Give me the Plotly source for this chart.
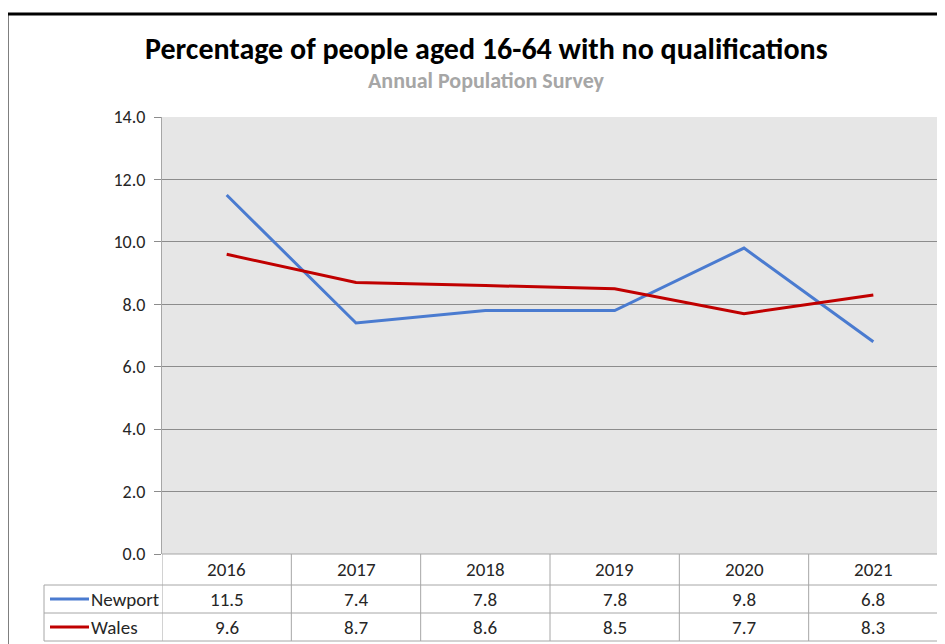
import plotly.graph_objects as go

years = ["2016", "2017", "2018", "2019", "2020", "2021"]
newport = [11.5, 7.4, 7.8, 7.8, 9.8, 6.8]
wales = [9.6, 8.7, 8.6, 8.5, 7.7, 8.3]
series_names = ["Newport", "Wales"]
series_colors = ["#4A7BD0", "#C00000"]

W, H = 945, 644
OFF = 8  # page body margin
def px(x):
    return (x - OFF) / W
def py(y):
    return 1 - (y - OFF) / H

FONT = "Carlito, Calibri, Liberation Sans, sans-serif"
x_idx = list(range(len(years)))

fig = go.Figure()
for name, vals, col in zip(series_names, [newport, wales], series_colors):
    fig.add_trace(go.Scatter(x=x_idx, y=vals, mode="lines", name=name,
                             line=dict(color=col, width=3), hoverinfo="skip"))

plot_l, plot_r, plot_t, plot_b = 162, 938, 117, 554
row_h = [554, 585, 613, 641]
grid = "#A6A6A6"

shapes = []
# outer black frame
shapes.append(dict(type="rect", xref="paper", yref="paper", x0=px(7), x1=px(1000),
                   y0=py(720), y1=py(14), line=dict(color="black", width=3)))
# table horizontal lines
shapes.append(dict(type="line", xref="paper", yref="paper", x0=px(plot_l), x1=px(plot_r),
                   y0=py(row_h[0]), y1=py(row_h[0]), line=dict(color=grid, width=1)))
for yy in row_h[1:]:
    shapes.append(dict(type="line", xref="paper", yref="paper", x0=px(44), x1=px(plot_r),
                       y0=py(yy), y1=py(yy), line=dict(color=grid, width=1)))
# left border of table label column
shapes.append(dict(type="line", xref="paper", yref="paper", x0=px(44), x1=px(44),
                   y0=py(row_h[1]), y1=py(row_h[3]), line=dict(color=grid, width=1)))
# vertical column lines
for i in range(len(years) + 1):
    shapes.append(dict(type="line", xref="x", yref="paper", x0=i - 0.5, x1=i - 0.5,
                       y0=py(row_h[0]), y1=py(row_h[3]), line=dict(color=grid, width=1)))
# legend keys
for k, col in enumerate(series_colors):
    yc = (row_h[k + 1] + row_h[k + 2]) / 2
    shapes.append(dict(type="line", xref="paper", yref="paper", x0=px(50), x1=px(89),
                       y0=py(yc), y1=py(yc), line=dict(color=col, width=3)))

annotations = []
annotations.append(dict(text="<b>Percentage of people aged 16-64 with no qualifications</b>",
                        xref="paper", yref="paper", x=px(486), y=py(48), showarrow=False,
                        font=dict(family=FONT, size=30, color="black"),
                        xanchor="center", yanchor="middle"))
annotations.append(dict(text="<b>Annual Population Survey</b>",
                        xref="paper", yref="paper", x=px(486), y=py(80), showarrow=False,
                        font=dict(family=FONT, size=22, color="#A6A6A6"),
                        xanchor="center", yanchor="middle"))
tf = dict(family=FONT, size=19, color="#262626")
for i, yr in enumerate(years):
    annotations.append(dict(text=yr, xref="x", yref="paper", x=i,
                            y=py((row_h[0] + row_h[1]) / 2), showarrow=False, font=tf,
                            xanchor="center", yanchor="middle"))
for k, (name, vals) in enumerate(zip(series_names, [newport, wales])):
    yc = py((row_h[k + 1] + row_h[k + 2]) / 2)
    annotations.append(dict(text=name, xref="paper", yref="paper", x=px(89), y=yc,
                            showarrow=False, font=tf, xanchor="left", yanchor="middle"))
    for i, v in enumerate(vals):
        annotations.append(dict(text=f"{v:.1f}", xref="x", yref="paper", x=i, y=yc,
                                showarrow=False, font=tf, xanchor="center", yanchor="middle"))

fig.update_layout(
    width=W, height=H,
    margin=dict(l=0, r=0, t=0, b=0, autoexpand=False),
    paper_bgcolor="white",
    plot_bgcolor="#E6E6E6",
    showlegend=False,
    shapes=shapes,
    annotations=annotations,
    xaxis=dict(domain=[px(plot_l), px(plot_r)], range=[-0.5, len(years) - 0.5],
               showticklabels=False, showgrid=False, zeroline=False, showline=False,
               fixedrange=True, automargin=False),
    yaxis=dict(domain=[py(plot_b), py(plot_t)], range=[0, 14], dtick=2, tickformat=".1f",
               showgrid=True, gridcolor="#8C8C8C", gridwidth=1, zeroline=False,
               showline=True, linecolor=grid, linewidth=1,
               ticks="outside", ticklen=7, tickcolor="#8C8C8C", ticklabelstandoff=5,
               tickfont=dict(family=FONT, size=18, color="#262626"), fixedrange=True,
               automargin=False),
)

fig.write_html("out.html")
